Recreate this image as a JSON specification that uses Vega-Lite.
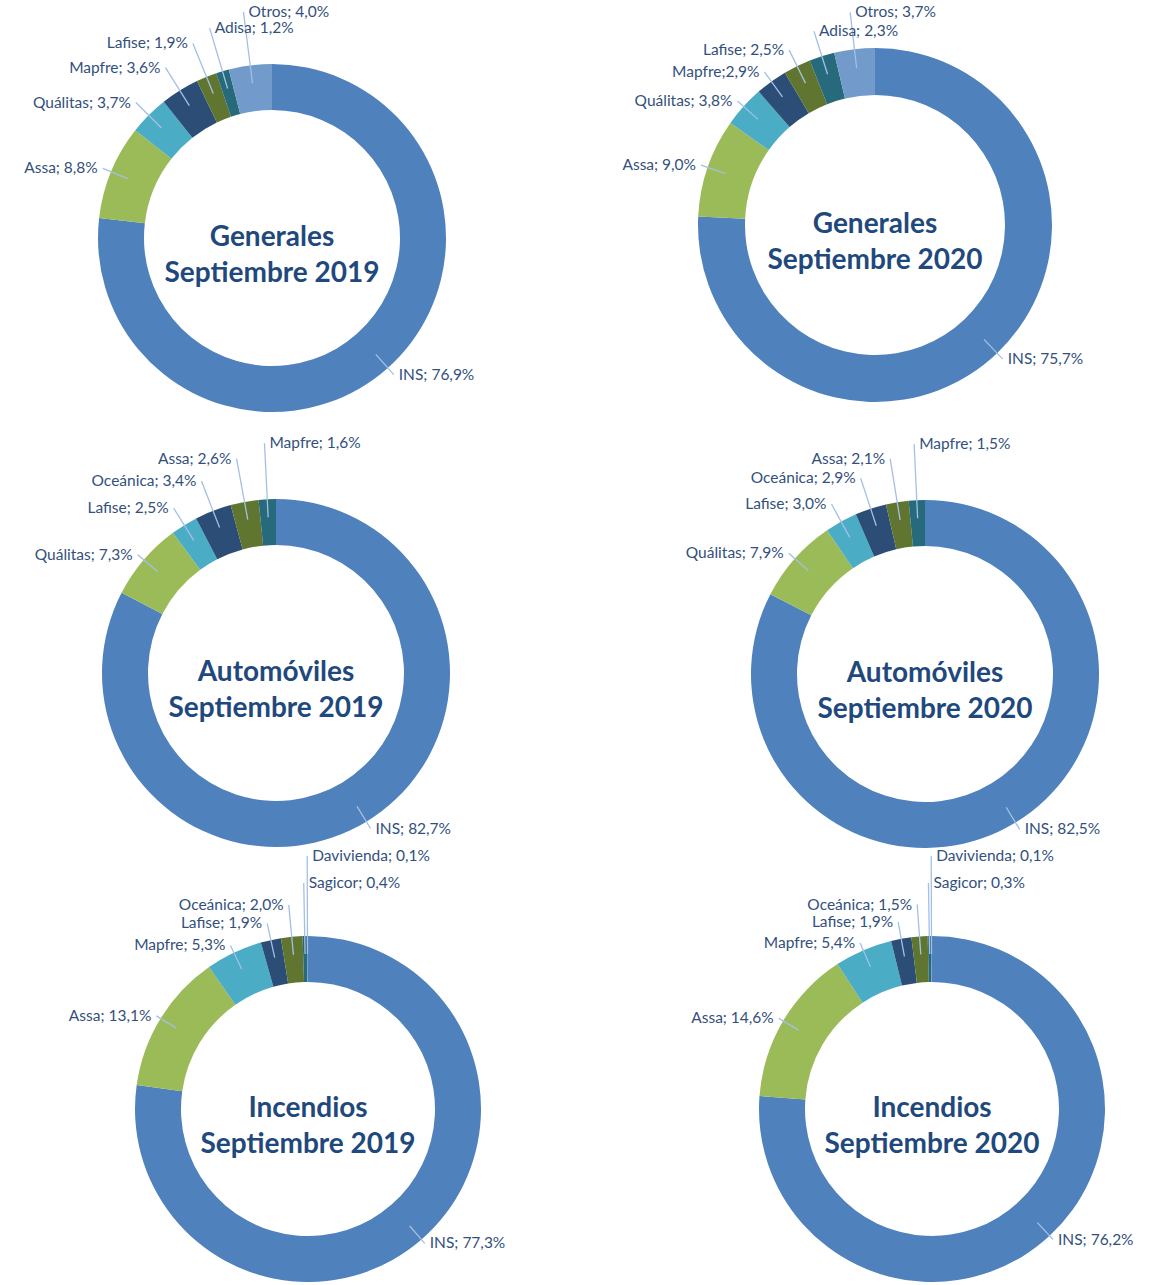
{
  "$schema": "https://vega.github.io/schema/vega-lite/v6.json",
  "background": "white",
  "padding": {"top": 4, "left": 0, "right": 0, "bottom": 0},
  "bounds": "flush",
  "columns": 2,
  "spacing": {"row": 0, "column": 96},
  "config": {"view": {"stroke": null}},
  "datasets": {
    "g19": [
      {"name": "INS", "pct": 76.9, "ord": 1, "label": "INS; 76,9%"},
      {"name": "Assa", "pct": 8.8, "ord": 2, "label": "Assa; 8,8%"},
      {"name": "Quálitas", "pct": 3.7, "ord": 3, "label": "Quálitas; 3,7%"},
      {"name": "Mapfre", "pct": 3.6, "ord": 4, "label": "Mapfre; 3,6%"},
      {"name": "Lafise", "pct": 1.9, "ord": 5, "label": "Lafise; 1,9%"},
      {"name": "Adisa", "pct": 1.2, "ord": 6, "label": "Adisa; 1,2%"},
      {"name": "Otros", "pct": 4.0, "ord": 7, "label": "Otros; 4,0%"}
    ],
    "g20": [
      {"name": "INS", "pct": 75.7, "ord": 1, "label": "INS; 75,7%"},
      {"name": "Assa", "pct": 9.0, "ord": 2, "label": "Assa; 9,0%"},
      {"name": "Quálitas", "pct": 3.8, "ord": 3, "label": "Quálitas; 3,8%"},
      {"name": "Mapfre", "pct": 2.9, "ord": 4, "label": "Mapfre;2,9%"},
      {"name": "Lafise", "pct": 2.5, "ord": 5, "label": "Lafise; 2,5%"},
      {"name": "Adisa", "pct": 2.3, "ord": 6, "label": "Adisa; 2,3%"},
      {"name": "Otros", "pct": 3.7, "ord": 7, "label": "Otros; 3,7%"}
    ],
    "a19": [
      {"name": "INS", "pct": 82.7, "ord": 1, "label": "INS; 82,7%"},
      {"name": "Quálitas", "pct": 7.3, "ord": 2, "label": "Quálitas; 7,3%"},
      {"name": "Lafise", "pct": 2.5, "ord": 3, "label": "Lafise; 2,5%"},
      {"name": "Oceánica", "pct": 3.4, "ord": 4, "label": "Oceánica; 3,4%"},
      {"name": "Assa", "pct": 2.6, "ord": 5, "label": "Assa; 2,6%"},
      {"name": "Mapfre", "pct": 1.6, "ord": 6, "label": "Mapfre; 1,6%"}
    ],
    "a20": [
      {"name": "INS", "pct": 82.5, "ord": 1, "label": "INS; 82,5%"},
      {"name": "Quálitas", "pct": 7.9, "ord": 2, "label": "Quálitas; 7,9%"},
      {"name": "Lafise", "pct": 3.0, "ord": 3, "label": "Lafise; 3,0%"},
      {"name": "Oceánica", "pct": 2.9, "ord": 4, "label": "Oceánica; 2,9%"},
      {"name": "Assa", "pct": 2.1, "ord": 5, "label": "Assa; 2,1%"},
      {"name": "Mapfre", "pct": 1.5, "ord": 6, "label": "Mapfre; 1,5%"}
    ],
    "i19": [
      {"name": "INS", "pct": 77.3, "ord": 1, "label": "INS; 77,3%"},
      {"name": "Assa", "pct": 13.1, "ord": 2, "label": "Assa; 13,1%"},
      {"name": "Mapfre", "pct": 5.3, "ord": 3, "label": "Mapfre; 5,3%"},
      {"name": "Lafise", "pct": 1.9, "ord": 4, "label": "Lafise; 1,9%"},
      {"name": "Oceánica", "pct": 2.0, "ord": 5, "label": "Oceánica; 2,0%"},
      {"name": "Sagicor", "pct": 0.4, "ord": 6, "label": "Sagicor; 0,4%"},
      {"name": "Davivienda", "pct": 0.1, "ord": 7, "label": "Davivienda; 0,1%"}
    ],
    "i20": [
      {"name": "INS", "pct": 76.2, "ord": 1, "label": "INS; 76,2%"},
      {"name": "Assa", "pct": 14.6, "ord": 2, "label": "Assa; 14,6%"},
      {"name": "Mapfre", "pct": 5.4, "ord": 3, "label": "Mapfre; 5,4%"},
      {"name": "Lafise", "pct": 1.9, "ord": 4, "label": "Lafise; 1,9%"},
      {"name": "Oceánica", "pct": 1.5, "ord": 5, "label": "Oceánica; 1,5%"},
      {"name": "Sagicor", "pct": 0.3, "ord": 6, "label": "Sagicor; 0,3%"},
      {"name": "Davivienda", "pct": 0.1, "ord": 7, "label": "Davivienda; 0,1%"}
    ]
  },
  "resolve": {"scale": {"theta": "independent", "color": "independent"}},
  "concat": [
    {
      "width": 544, "height": 348,
      "data": {"name": "g19"},
      "layer": [
        {"mark": {"type": "arc", "radius": 174, "radius2": 128},
         "encoding": {"theta": {"field": "pct", "type": "quantitative", "stack": true}, "order": {"field": "ord", "type": "quantitative"},
           "color": {"field": "ord", "type": "ordinal", "legend": null, "scale": {"domain": [1,2,3,4,5,6,7], "range": ["#4F81BD","#9BBB59","#4BACC6","#2C4D75","#5F7530","#276A7C","#729ACA"]}}}},
        {"transform": [{"joinaggregate": [{"op": "sum", "field": "pct", "as": "tot"}]}, {"stack": "pct", "groupby": [], "sort": [{"field": "ord", "order": "ascending"}], "as": ["s0", "s1"]}],
         "mark": {"type": "arc", "theta": {"expr": "PI*(datum.s0+datum.s1)/datum.tot"}, "theta2": {"expr": "PI*(datum.s0+datum.s1)/datum.tot"},
           "radius": {"expr": "clamp(183 + 9*(datum.ord-2), 183, 228)"}, "radius2": 156, "stroke": "#A3C0E4", "strokeWidth": 1.3, "fill": null}},
        {"transform": [{"joinaggregate": [{"op": "sum", "field": "pct", "as": "tot"}]}],
         "mark": {"type": "text", "font": "Lato", "fontSize": 15.5, "fill": "#33507D", "baseline": "middle",
           "radius": {"expr": "clamp(183 + 9*(datum.ord-2), 183, 228)"},
           "align": {"expr": "((datum.pct_start+datum.pct_end)/(2*datum.tot) < 0.5 || (datum.pct_start+datum.pct_end)/(2*datum.tot) > 0.95) ? 'left' : 'right'"},
           "dx": {"expr": "((datum.pct_start+datum.pct_end)/(2*datum.tot) < 0.5 || (datum.pct_start+datum.pct_end)/(2*datum.tot) > 0.95) ? 5 : -5"}},
         "encoding": {"theta": {"field": "pct", "type": "quantitative", "stack": true}, "order": {"field": "ord", "type": "quantitative"},
           "text": {"field": "label"}}},
        {"data": {"values": [{}]},
         "mark": {"type": "text", "text": ["Generales", "Septiembre 2019"], "font": "Lato", "fontWeight": "bold", "fontSize": 28, "lineHeight": 36, "fill": "#1F497D", "align": "center", "baseline": "middle"}}
      ]
    },
    {
      "width": 326, "height": 322,
      "data": {"name": "g20"},
      "layer": [
        {"mark": {"type": "arc", "radius": 177, "radius2": 130},
         "encoding": {"theta": {"field": "pct", "type": "quantitative", "stack": true}, "order": {"field": "ord", "type": "quantitative"},
           "color": {"field": "ord", "type": "ordinal", "legend": null, "scale": {"domain": [1,2,3,4,5,6,7], "range": ["#4F81BD","#9BBB59","#4BACC6","#2C4D75","#5F7530","#276A7C","#729ACA"]}}}},
        {"transform": [{"joinaggregate": [{"op": "sum", "field": "pct", "as": "tot"}]}, {"stack": "pct", "groupby": [], "sort": [{"field": "ord", "order": "ascending"}], "as": ["s0", "s1"]}],
         "mark": {"type": "arc", "theta": {"expr": "PI*(datum.s0+datum.s1)/datum.tot"}, "theta2": {"expr": "PI*(datum.s0+datum.s1)/datum.tot"},
           "radius": {"expr": "184 + 1.2*pow(datum.ord-2, 2)"}, "radius2": 158, "stroke": "#A3C0E4", "strokeWidth": 1.3, "fill": null}},
        {"transform": [{"joinaggregate": [{"op": "sum", "field": "pct", "as": "tot"}]}],
         "mark": {"type": "text", "font": "Lato", "fontSize": 15.5, "fill": "#33507D", "baseline": "middle",
           "radius": {"expr": "184 + 1.2*pow(datum.ord-2, 2)"},
           "align": {"expr": "((datum.pct_start+datum.pct_end)/(2*datum.tot) < 0.5 || (datum.pct_start+datum.pct_end)/(2*datum.tot) > 0.95) ? 'left' : 'right'"},
           "dx": {"expr": "((datum.pct_start+datum.pct_end)/(2*datum.tot) < 0.5 || (datum.pct_start+datum.pct_end)/(2*datum.tot) > 0.95) ? 5 : -5"}},
         "encoding": {"theta": {"field": "pct", "type": "quantitative", "stack": true}, "order": {"field": "ord", "type": "quantitative"},
           "text": {"field": "label"}}},
        {"data": {"values": [{}]},
         "mark": {"type": "text", "text": ["Generales", "Septiembre 2020"], "font": "Lato", "fontWeight": "bold", "fontSize": 28, "lineHeight": 36, "fill": "#1F497D", "align": "center", "baseline": "middle"}}
      ]
    },
    {
      "width": 552, "height": 522,
      "data": {"name": "a19"},
      "layer": [
        {"mark": {"type": "arc", "radius": 174, "radius2": 128},
         "encoding": {"theta": {"field": "pct", "type": "quantitative", "stack": true}, "order": {"field": "ord", "type": "quantitative"},
           "color": {"field": "ord", "type": "ordinal", "legend": null, "scale": {"domain": [1,2,3,4,5,6,7], "range": ["#4F81BD","#9BBB59","#4BACC6","#2C4D75","#5F7530","#276A7C","#729ACA"]}}}},
        {"transform": [{"joinaggregate": [{"op": "sum", "field": "pct", "as": "tot"}]}, {"stack": "pct", "groupby": [], "sort": [{"field": "ord", "order": "ascending"}], "as": ["s0", "s1"]}],
         "mark": {"type": "arc", "theta": {"expr": "PI*(datum.s0+datum.s1)/datum.tot"}, "theta2": {"expr": "PI*(datum.s0+datum.s1)/datum.tot"},
           "radius": {"expr": "clamp(182 + 12*(datum.ord-2), 182, 230)"}, "radius2": 156, "stroke": "#A3C0E4", "strokeWidth": 1.3, "fill": null}},
        {"transform": [{"joinaggregate": [{"op": "sum", "field": "pct", "as": "tot"}]}],
         "mark": {"type": "text", "font": "Lato", "fontSize": 15.5, "fill": "#33507D", "baseline": "middle",
           "radius": {"expr": "clamp(182 + 12*(datum.ord-2), 182, 230)"},
           "align": {"expr": "((datum.pct_start+datum.pct_end)/(2*datum.tot) < 0.5 || (datum.pct_start+datum.pct_end)/(2*datum.tot) > 0.978) ? 'left' : 'right'"},
           "dx": {"expr": "((datum.pct_start+datum.pct_end)/(2*datum.tot) < 0.5 || (datum.pct_start+datum.pct_end)/(2*datum.tot) > 0.978) ? 5 : -5"}},
         "encoding": {"theta": {"field": "pct", "type": "quantitative", "stack": true}, "order": {"field": "ord", "type": "quantitative"},
           "text": {"field": "label"}}},
        {"data": {"values": [{}]},
         "mark": {"type": "text", "text": ["Automóviles", "Septiembre 2019"], "font": "Lato", "fontWeight": "bold", "fontSize": 28, "lineHeight": 36, "fill": "#1F497D", "align": "center", "baseline": "middle"}}
      ]
    },
    {
      "width": 426, "height": 524,
      "data": {"name": "a20"},
      "layer": [
        {"mark": {"type": "arc", "radius": 174, "radius2": 128},
         "encoding": {"theta": {"field": "pct", "type": "quantitative", "stack": true}, "order": {"field": "ord", "type": "quantitative"},
           "color": {"field": "ord", "type": "ordinal", "legend": null, "scale": {"domain": [1,2,3,4,5,6,7], "range": ["#4F81BD","#9BBB59","#4BACC6","#2C4D75","#5F7530","#276A7C","#729ACA"]}}}},
        {"transform": [{"joinaggregate": [{"op": "sum", "field": "pct", "as": "tot"}]}, {"stack": "pct", "groupby": [], "sort": [{"field": "ord", "order": "ascending"}], "as": ["s0", "s1"]}],
         "mark": {"type": "arc", "theta": {"expr": "PI*(datum.s0+datum.s1)/datum.tot"}, "theta2": {"expr": "PI*(datum.s0+datum.s1)/datum.tot"},
           "radius": {"expr": "clamp(182 + 12*(datum.ord-2), 182, 230)"}, "radius2": 156, "stroke": "#A3C0E4", "strokeWidth": 1.3, "fill": null}},
        {"transform": [{"joinaggregate": [{"op": "sum", "field": "pct", "as": "tot"}]}],
         "mark": {"type": "text", "font": "Lato", "fontSize": 15.5, "fill": "#33507D", "baseline": "middle",
           "radius": {"expr": "clamp(182 + 12*(datum.ord-2), 182, 230)"},
           "align": {"expr": "((datum.pct_start+datum.pct_end)/(2*datum.tot) < 0.5 || (datum.pct_start+datum.pct_end)/(2*datum.tot) > 0.978) ? 'left' : 'right'"},
           "dx": {"expr": "((datum.pct_start+datum.pct_end)/(2*datum.tot) < 0.5 || (datum.pct_start+datum.pct_end)/(2*datum.tot) > 0.978) ? 5 : -5"}},
         "encoding": {"theta": {"field": "pct", "type": "quantitative", "stack": true}, "order": {"field": "ord", "type": "quantitative"},
           "text": {"field": "label"}}},
        {"data": {"values": [{}]},
         "mark": {"type": "text", "text": ["Automóviles", "Septiembre 2020"], "font": "Lato", "fontWeight": "bold", "fontSize": 28, "lineHeight": 36, "fill": "#1F497D", "align": "center", "baseline": "middle"}}
      ]
    },
    {
      "width": 616, "height": 346,
      "data": {"name": "i19"},
      "layer": [
        {"mark": {"type": "arc", "radius": 173, "radius2": 127},
         "encoding": {"theta": {"field": "pct", "type": "quantitative", "stack": true}, "order": {"field": "ord", "type": "quantitative"},
           "color": {"field": "ord", "type": "ordinal", "legend": null, "scale": {"domain": [1,2,3,4,5,6,7], "range": ["#4F81BD","#9BBB59","#4BACC6","#2C4D75","#5F7530","#276A7C","#729ACA"]}}}},
        {"transform": [{"joinaggregate": [{"op": "sum", "field": "pct", "as": "tot"}]}, {"stack": "pct", "groupby": [], "sort": [{"field": "ord", "order": "ascending"}], "as": ["s0", "s1"]}],
         "mark": {"type": "arc", "theta": {"expr": "PI*(datum.s0+datum.s1)/datum.tot"}, "theta2": {"expr": "PI*(datum.s0+datum.s1)/datum.tot"},
           "radius": {"expr": "178 + 3*pow(max(datum.ord-2, 0), 2)"}, "radius2": 155, "stroke": "#A3C0E4", "strokeWidth": 1.3, "fill": null}},
        {"transform": [{"joinaggregate": [{"op": "sum", "field": "pct", "as": "tot"}]}],
         "mark": {"type": "text", "font": "Lato", "fontSize": 15.5, "fill": "#33507D", "baseline": "middle",
           "radius": {"expr": "178 + 3*pow(max(datum.ord-2, 0), 2)"},
           "align": {"expr": "((datum.pct_start+datum.pct_end)/(2*datum.tot) < 0.5 || (datum.pct_start+datum.pct_end)/(2*datum.tot) > 0.99) ? 'left' : 'right'"},
           "dx": {"expr": "((datum.pct_start+datum.pct_end)/(2*datum.tot) < 0.5 || (datum.pct_start+datum.pct_end)/(2*datum.tot) > 0.99) ? 5 : -5"}},
         "encoding": {"theta": {"field": "pct", "type": "quantitative", "stack": true}, "order": {"field": "ord", "type": "quantitative"},
           "text": {"field": "label"}}},
        {"data": {"values": [{}]},
         "mark": {"type": "text", "text": ["Incendios", "Septiembre 2019"], "font": "Lato", "fontWeight": "bold", "fontSize": 28, "lineHeight": 36, "fill": "#1F497D", "align": "center", "baseline": "middle"}}
      ]
    },
    {
      "width": 440, "height": 346,
      "data": {"name": "i20"},
      "layer": [
        {"mark": {"type": "arc", "radius": 173, "radius2": 127},
         "encoding": {"theta": {"field": "pct", "type": "quantitative", "stack": true}, "order": {"field": "ord", "type": "quantitative"},
           "color": {"field": "ord", "type": "ordinal", "legend": null, "scale": {"domain": [1,2,3,4,5,6,7], "range": ["#4F81BD","#9BBB59","#4BACC6","#2C4D75","#5F7530","#276A7C","#729ACA"]}}}},
        {"transform": [{"joinaggregate": [{"op": "sum", "field": "pct", "as": "tot"}]}, {"stack": "pct", "groupby": [], "sort": [{"field": "ord", "order": "ascending"}], "as": ["s0", "s1"]}],
         "mark": {"type": "arc", "theta": {"expr": "PI*(datum.s0+datum.s1)/datum.tot"}, "theta2": {"expr": "PI*(datum.s0+datum.s1)/datum.tot"},
           "radius": {"expr": "178 + 3*pow(max(datum.ord-2, 0), 2)"}, "radius2": 155, "stroke": "#A3C0E4", "strokeWidth": 1.3, "fill": null}},
        {"transform": [{"joinaggregate": [{"op": "sum", "field": "pct", "as": "tot"}]}],
         "mark": {"type": "text", "font": "Lato", "fontSize": 15.5, "fill": "#33507D", "baseline": "middle",
           "radius": {"expr": "178 + 3*pow(max(datum.ord-2, 0), 2)"},
           "align": {"expr": "((datum.pct_start+datum.pct_end)/(2*datum.tot) < 0.5 || (datum.pct_start+datum.pct_end)/(2*datum.tot) > 0.99) ? 'left' : 'right'"},
           "dx": {"expr": "((datum.pct_start+datum.pct_end)/(2*datum.tot) < 0.5 || (datum.pct_start+datum.pct_end)/(2*datum.tot) > 0.99) ? 5 : -5"}},
         "encoding": {"theta": {"field": "pct", "type": "quantitative", "stack": true}, "order": {"field": "ord", "type": "quantitative"},
           "text": {"field": "label"}}},
        {"data": {"values": [{}]},
         "mark": {"type": "text", "text": ["Incendios", "Septiembre 2020"], "font": "Lato", "fontWeight": "bold", "fontSize": 28, "lineHeight": 36, "fill": "#1F497D", "align": "center", "baseline": "middle"}}
      ]
    }
  ]
}
